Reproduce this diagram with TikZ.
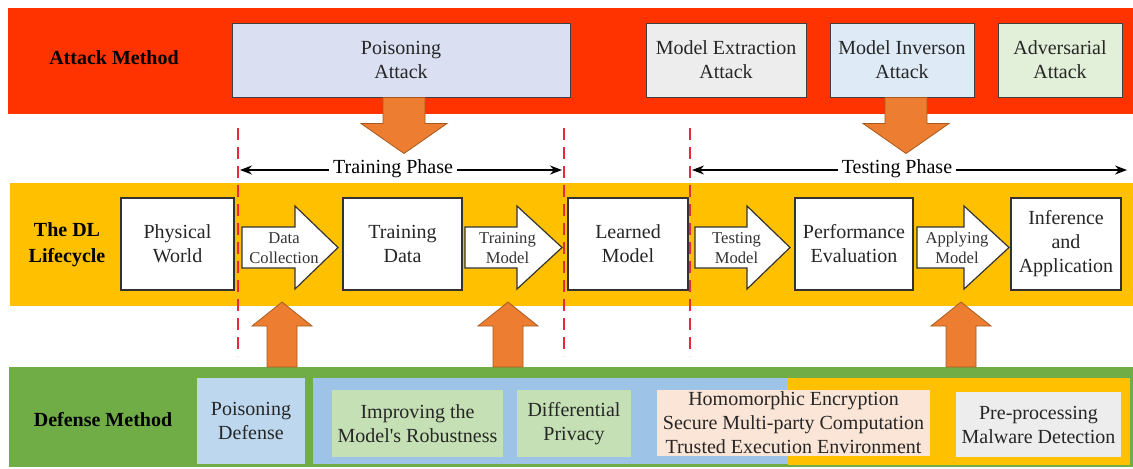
\documentclass[tikz,border=0pt]{standalone}
\usepackage{fontspec}
\setmainfont{Liberation Serif}
\usetikzlibrary{arrows.meta,calc}

\definecolor{atkred}{HTML}{FF3300}
\definecolor{lcyellow}{HTML}{FFC000}
\definecolor{defgreen}{HTML}{70AD47}
\definecolor{defblue}{HTML}{9DC3E6}
\definecolor{pdblue}{HTML}{BDD7EE}
\definecolor{boxgreen}{HTML}{C5E0B4}
\definecolor{boxpeach}{HTML}{FBE5D6}
\definecolor{boxgray}{HTML}{EDEDED}
\definecolor{palav}{HTML}{DADFF2}
\definecolor{miblue}{HTML}{DEEBF7}
\definecolor{aagreen}{HTML}{E2F0D9}
\definecolor{hitorange}{HTML}{ED7D31}
\definecolor{hitedge}{HTML}{A65A1E}
\definecolor{cutred}{HTML}{E8283C}

\begin{document}
\begin{tikzpicture}[x=0.5pt, y=-0.5pt,
	font=\fontsize{10}{12}\selectfont,
	atkbox/.style={draw=black!75, line width=0.5pt, align=center, inner sep=0pt,
		minimum height=37pt, text=black!85},
	lcbox/.style={draw=black!80, line width=0.75pt, fill=white, align=center,
		inner sep=0pt, minimum height=46pt, text=black!85},
	defbox/.style={align=center, inner sep=0pt, text=black!85},
	flow/.style={draw=black!80, line width=0.6pt, fill=white},
	flowlabel/.style={align=center, inner sep=0pt,
		font=\fontsize{8.3}{10}\selectfont, text=black!80},
	hit/.style={fill=hitorange, draw=hitedge, line width=0.4pt},
	cut/.style={draw=cutred, line width=0.75pt, dash pattern=on 6pt off 3.5pt},
	phase/.style={{Stealth[length=6pt,width=4.5pt]}-{Stealth[length=6pt,width=4.5pt]},
		line width=0.6pt},
	rowlabel/.style={font=\fontsize{10}{13}\selectfont\bfseries, align=center}]

	\useasboundingbox (0,0) rectangle (1133,468);

	% 右向的流程箭头: 名字, 起点, 箭头起点, 尖端, 文字
	\newcommand\lcarrow[5]{
		\draw[flow] (#2,227) -- (#3,227) -- (#3,206) -- (#4,247.5)
			-- (#3,289) -- (#3,268) -- (#2,268) -- cycle;
		\node[flowlabel] (#1) at ({(#2+#4)/2-6},248) {#5};
	}

	% 攻击方法
	\fill[atkred] (8,8) rectangle (1133,114);
	\node[rowlabel] (atk) at (114,58) {Attack Method};
	\node[atkbox, fill=palav, minimum width=169pt] (pa) at (401,60) {Poisoning\\Attack};
	\node[atkbox, fill=boxgray, minimum width=80pt] (me) at (726,60) {Model Extraction\\Attack};
	\node[atkbox, fill=miblue, minimum width=72pt] (mi) at (902,60) {Model Inverson\\Attack};
	\node[atkbox, fill=aagreen, minimum width=62pt] (aa) at (1060,60) {Adversarial\\Attack};

	% 向下的攻击箭头
	\filldraw[hit, shift={($(pa.south)+(3,0)$)}]
		(-21,0) -- (21,0) -- (21,26) -- (43,26) -- (0,56) -- (-43,26) -- (-21,26) -- cycle;
	\filldraw[hit, shift={($(mi.south)+(4,0)$)}]
		(-21,0) -- (21,0) -- (21,26) -- (43,26) -- (0,56) -- (-43,26) -- (-21,26) -- cycle;

	% 两个阶段
	\coordinate (trl) at (240,170);
	\coordinate (trr) at (562,170);
	\coordinate (tel) at (692,170);
	\coordinate (ter) at (1127,170);
	\draw[phase] (trl) -- (trr);
	\draw[phase] (tel) -- (ter);
	\node[fill=white, inner xsep=2pt, inner ysep=1pt] (trp) at (393,169) {Training Phase};
	\node[fill=white, inner xsep=2pt, inner ysep=1pt] (tep) at (897,169) {Testing Phase};

	% DL 生命周期
	\fill[lcyellow] (10,183) rectangle (1133,306);
	\foreach \x in {238,564,690}
		\draw[cut] (\x,128) -- (\x,356);
	\node[rowlabel] (lc) at (67,245) {The DL\\Lifecycle};
	\node[lcbox, minimum width=56.5pt] (pw) at (177.5,244) {Physical\\World};
	\node[lcbox, minimum width=59.5pt] (td) at (402.5,244) {Training\\Data};
	\node[lcbox, minimum width=60pt] (lm) at (628,244) {Learned\\Model};
	\node[lcbox, minimum width=59pt] (pe) at (854,244) {Performance\\Evaluation};
	\node[lcbox, minimum width=55pt] (ia) at (1066,244) {Inference\\and\\Application};
	\lcarrow{dc}{242}{295}{338}{Data\\Collection}
	\lcarrow{tm}{465}{517}{562}{Training\\Model}
	\lcarrow{tsm}{695}{747}{790}{Testing\\Model}
	\lcarrow{am}{917}{964}{1009}{Applying\\Model}

	% 防御方法
	\fill[defgreen] (9,367) rectangle (1133,467);
	\fill[defblue] (313,378) rectangle (788,464);
	\fill[lcyellow] (788,378) rectangle (1130,465);
	\node[rowlabel] (def) at (103,420) {Defense Method};
	\node[defbox, fill=pdblue, minimum width=54pt, minimum height=43pt] (pd) at (251,421) {Poisoning\\Defense};
	\node[defbox, fill=boxgreen, minimum width=85.5pt, minimum height=33.5pt] (ir) at (417.5,423.5) {Improving the\\Model\textquotesingle s Robustness};
	\node[defbox, fill=boxgreen, minimum width=57pt, minimum height=33.5pt] (dp) at (574,423.5) {Differential\\Privacy};
	\node[defbox, fill=boxpeach, minimum width=136.5pt, minimum height=33pt] (he) at (793.5,423) {Homomorphic Encryption\\Secure Multi-party Computation\\Trusted Execution Environment};
	\node[defbox, fill=boxgray, minimum width=82.5pt, minimum height=32.5pt] (pm) at (1038.5,424.5) {Pre-processing\\Malware Detection};

	% 向上的防御箭头
	\foreach \x in {282,508,961}
		\filldraw[hit, shift={(\x,367)}]
			(-15,0) -- (-15,-41) -- (-30,-41) -- (0,-65) -- (30,-41) -- (15,-41) -- (15,0) -- cycle;
\end{tikzpicture}
\end{document}
